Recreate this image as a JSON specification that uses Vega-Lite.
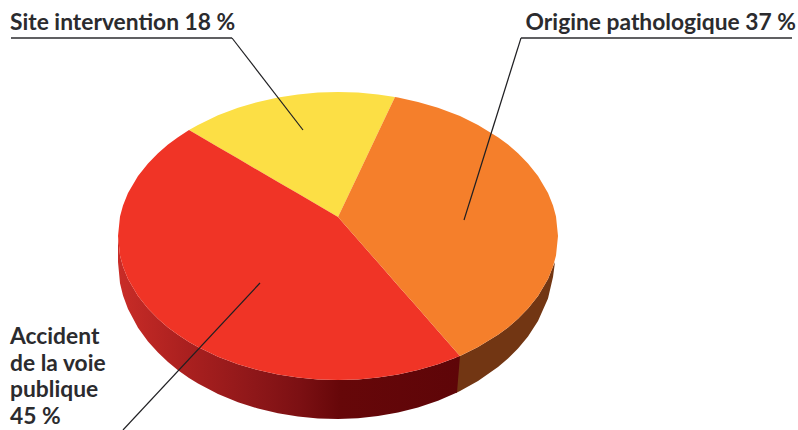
{
  "$schema": "https://vega.github.io/schema/vega-lite/v6.json",
  "description": "Tilted pie: shares 45, 37 and 18 %. Vega-Lite arcs are circular only, so the elliptical outlines are digitized from the picture as x, y, y2 rows.",
  "width": 798,
  "height": 430,
  "padding": 0,
  "autosize": {"type": "fit", "contains": "padding"},
  "background": "white",
  "view": {"stroke": null},
  "config": {"axis": null},
  "datasets": {
    "wallRed": [
      {"x":118,"y":236,"y2":262},{"x":120,"y":255.4,"y2":283.2},{"x":123,"y":266.5,"y2":295.5},{"x":128,"y":278.9,"y2":309},{"x":138,"y":296,"y2":327.7},{"x":148,"y":308.6,"y2":341.5},{"x":158,"y":318.8,"y2":352.6},{"x":168,"y":327.4,"y2":362},{"x":178,"y":334.8,"y2":370.2},{"x":189,"y":342,"y2":378},{"x":198,"y":347.1,"y2":383.5},{"x":218,"y":356.7,"y2":394},{"x":238,"y":364.3,"y2":402.2},{"x":258,"y":370.1,"y2":408.6},{"x":278,"y":374.5,"y2":413.3},{"x":298,"y":377.6,"y2":416.6},{"x":318,"y":379.4,"y2":418.5},{"x":338,"y":380,"y2":419},{"x":358,"y":379.4,"y2":418.2},{"x":378,"y":377.6,"y2":416},{"x":398,"y":374.5,"y2":412.5},{"x":418,"y":370.1,"y2":407.5},{"x":438,"y":364.3,"y2":400.8},{"x":457,"y":357.2,"y2":392.6},{"x":460,"y":356,"y2":356}
    ],
    "wallOrange": [
      {"x":456,"y":357.5,"y2":393},{"x":460,"y":356,"y2":391.1},{"x":478,"y":347.1,"y2":381.1},{"x":498,"y":334.8,"y2":367},{"x":508,"y":327.4,"y2":358.5},{"x":518,"y":318.8,"y2":348.4},{"x":528,"y":308.6,"y2":336.4},{"x":538,"y":296,"y2":321},{"x":548,"y":278.9,"y2":298.6},{"x":553,"y":266.5,"y2":277},{"x":555,"y":262,"y2":262}
    ],
    "top": [
      {"slice":"Site intervention","x":189,"y":130,"y2":130},{"slice":"Site intervention","x":198,"y":124.9,"y2":135.3},{"slice":"Site intervention","x":218,"y":115.3,"y2":146.9},{"slice":"Site intervention","x":238,"y":107.7,"y2":158.6},{"slice":"Site intervention","x":258,"y":101.9,"y2":170.3},{"slice":"Site intervention","x":278,"y":97.5,"y2":181.9},{"slice":"Site intervention","x":298,"y":94.4,"y2":193.6},{"slice":"Site intervention","x":318,"y":92.6,"y2":205.3},{"slice":"Site intervention","x":338,"y":92,"y2":217},{"slice":"Site intervention","x":358,"y":92.6,"y2":174.9},{"slice":"Site intervention","x":378,"y":94.4,"y2":132.8},{"slice":"Site intervention","x":395,"y":97,"y2":97},
      {"slice":"Accident de la voie publique","x":118,"y":236,"y2":236},{"slice":"Accident de la voie publique","x":120,"y":216.6,"y2":255.4},{"slice":"Accident de la voie publique","x":123,"y":205.5,"y2":266.5},{"slice":"Accident de la voie publique","x":128,"y":193.1,"y2":278.9},{"slice":"Accident de la voie publique","x":138,"y":176,"y2":296},{"slice":"Accident de la voie publique","x":148,"y":163.4,"y2":308.6},{"slice":"Accident de la voie publique","x":158,"y":153.2,"y2":318.8},{"slice":"Accident de la voie publique","x":168,"y":144.6,"y2":327.4},{"slice":"Accident de la voie publique","x":178,"y":137.2,"y2":334.8},{"slice":"Accident de la voie publique","x":189,"y":130,"y2":342},{"slice":"Accident de la voie publique","x":198,"y":135.3,"y2":347.1},{"slice":"Accident de la voie publique","x":218,"y":146.9,"y2":356.7},{"slice":"Accident de la voie publique","x":238,"y":158.6,"y2":364.3},{"slice":"Accident de la voie publique","x":258,"y":170.3,"y2":370.1},{"slice":"Accident de la voie publique","x":278,"y":181.9,"y2":374.5},{"slice":"Accident de la voie publique","x":298,"y":193.6,"y2":377.6},{"slice":"Accident de la voie publique","x":318,"y":205.3,"y2":379.4},{"slice":"Accident de la voie publique","x":338,"y":217,"y2":380},{"slice":"Accident de la voie publique","x":358,"y":239.8,"y2":379.4},{"slice":"Accident de la voie publique","x":378,"y":262.6,"y2":377.6},{"slice":"Accident de la voie publique","x":398,"y":285.4,"y2":374.5},{"slice":"Accident de la voie publique","x":418,"y":308.1,"y2":370.1},{"slice":"Accident de la voie publique","x":438,"y":330.9,"y2":364.3},{"slice":"Accident de la voie publique","x":458,"y":353.7,"y2":356.7},{"slice":"Accident de la voie publique","x":460,"y":356,"y2":356},
      {"slice":"Origine pathologique","x":338,"y":217,"y2":217},{"slice":"Origine pathologique","x":358,"y":174.9,"y2":239.8},{"slice":"Origine pathologique","x":378,"y":132.8,"y2":262.6},{"slice":"Origine pathologique","x":395,"y":97,"y2":282},{"slice":"Origine pathologique","x":398,"y":97.5,"y2":285.4},{"slice":"Origine pathologique","x":418,"y":101.9,"y2":308.1},{"slice":"Origine pathologique","x":438,"y":107.7,"y2":330.9},{"slice":"Origine pathologique","x":458,"y":115.3,"y2":353.7},{"slice":"Origine pathologique","x":460,"y":116,"y2":356},{"slice":"Origine pathologique","x":478,"y":124.9,"y2":347.1},{"slice":"Origine pathologique","x":498,"y":137.2,"y2":334.8},{"slice":"Origine pathologique","x":508,"y":144.6,"y2":327.4},{"slice":"Origine pathologique","x":518,"y":153.2,"y2":318.8},{"slice":"Origine pathologique","x":528,"y":163.4,"y2":308.6},{"slice":"Origine pathologique","x":538,"y":176,"y2":296},{"slice":"Origine pathologique","x":548,"y":193.1,"y2":278.9},{"slice":"Origine pathologique","x":553,"y":205.5,"y2":266.5},{"slice":"Origine pathologique","x":556,"y":216.6,"y2":255.4},{"slice":"Origine pathologique","x":558,"y":236,"y2":236}
    ],
    "leaders": [
      {"slice":"Site intervention","x":232,"y":38},{"slice":"Site intervention","x":303,"y":130},
      {"slice":"Origine pathologique","x":464,"y":220},{"slice":"Origine pathologique","x":521,"y":38},
      {"slice":"Accident de la voie publique","x":123,"y":430},{"slice":"Accident de la voie publique","x":260,"y":283}
    ],
    "underlines": [
      {"slice":"Site intervention","x":11,"y":38},{"slice":"Site intervention","x":232,"y":38},
      {"slice":"Origine pathologique","x":521,"y":38},{"slice":"Origine pathologique","x":792,"y":38}
    ],
    "labelsLeft": [
      {"text":"Site intervention 18 %","x":10,"y":29.5},
      {"text":"Accident","x":10,"y":344},
      {"text":"de la voie","x":10,"y":370.5},
      {"text":"publique","x":10,"y":397},
      {"text":"45 %","x":10,"y":424}
    ],
    "labelsRight": [
      {"text":"Origine pathologique 37 %","x":796,"y":29.5}
    ]
  },
  "encoding": {
    "x": {"field": "x", "type": "quantitative", "scale": {"domain": [0, 798], "nice": false, "zero": false}, "axis": null},
    "y": {"field": "y", "type": "quantitative", "scale": {"domain": [430, 0], "nice": false, "zero": false}, "axis": null, "stack": null}
  },
  "layer": [
    {
      "data": {"name": "wallOrange"},
      "mark": {"type": "area", "color": "#723613", "clip": true},
      "encoding": {"y2": {"field": "y2"}}
    },
    {
      "data": {"name": "wallRed"},
      "mark": {"type": "area", "clip": true, "color": {
        "gradient": "linear", "x1": 0, "y1": 0, "x2": 1, "y2": 0,
        "stops": [
          {"offset": 0, "color": "#c92c27"},
          {"offset": 0.18, "color": "#ad2120"},
          {"offset": 0.4, "color": "#8e1719"},
          {"offset": 0.53, "color": "#7c1013"},
          {"offset": 0.65, "color": "#660709"},
          {"offset": 1, "color": "#5e0508"}
        ]
      }},
      "encoding": {"y2": {"field": "y2"}}
    },
    {
      "data": {"name": "top"},
      "mark": {"type": "area", "clip": true},
      "encoding": {
        "y2": {"field": "y2"},
        "color": {
          "field": "slice", "type": "nominal", "legend": null,
          "scale": {"domain": ["Accident de la voie publique", "Origine pathologique", "Site intervention"], "range": ["#f03426", "#f57f2b", "#fcdf45"]}
        }
      }
    },
    {
      "data": {"name": "leaders"},
      "mark": {"type": "line", "color": "#1f1f22", "strokeWidth": 1.2, "clip": true},
      "encoding": {"detail": {"field": "slice"}}
    },
    {
      "data": {"name": "underlines"},
      "mark": {"type": "line", "color": "#2b2b2e", "strokeWidth": 1.5},
      "encoding": {"detail": {"field": "slice"}}
    },
    {
      "data": {"name": "labelsLeft"},
      "mark": {"type": "text", "align": "left", "baseline": "alphabetic", "font": "Lato", "fontWeight": "bold", "fontSize": 22.8, "color": "#2b2b2e"},
      "encoding": {"text": {"field": "text"}}
    },
    {
      "data": {"name": "labelsRight"},
      "mark": {"type": "text", "align": "right", "baseline": "alphabetic", "font": "Lato", "fontWeight": "bold", "fontSize": 22.8, "color": "#2b2b2e"},
      "encoding": {"text": {"field": "text"}}
    }
  ]
}
